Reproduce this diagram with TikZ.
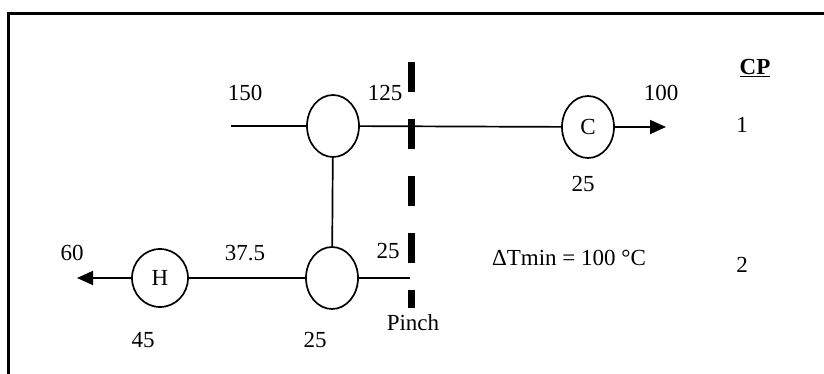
\documentclass[tikz,border=0pt]{standalone}
\usepackage{fontspec}
\setmainfont{Liberation Serif}
\usetikzlibrary{shapes.geometric,arrows.meta}
\begin{document}
\begin{tikzpicture}[x=1pt,y=-1pt,
 hx/.style={draw,ellipse,line width=1.7pt,minimum width=52pt,minimum height=62pt,inner sep=0pt,font=\fontsize{23}{26}\selectfont},
 lbl/.style={font=\fontsize{23}{26}\selectfont,inner sep=0pt},
 stream/.style={line width=1.7pt},
 tip/.style={-{Triangle[length=16pt,width=14pt]}}]
\useasboundingbox (0,0) rectangle (824,374);
\draw[line width=3pt] (8,374) -- (8,14) -- (824,14);
% exchangers
\node[hx] (e1) at (333,126) {};
\node[hx] (c) at (588,127) {C};
\node[hx] (e2) at (332,278) {};
\node[hx,minimum width=56pt,minimum height=58pt] (h) at (160,278) {H};
% stream ends
\coordinate (s1) at (231,126);
\coordinate (t1) at (666,127);
\coordinate (s2) at (410,278);
\coordinate (t2) at (77,278);
\draw[stream] (s1) -- (e1);
\draw[stream] (e1) -- (c);
\draw[stream,tip] (c) -- (t1);
\draw[stream] (s2) -- (e2);
\draw[stream] (e2) -- (h);
\draw[stream,tip] (h) -- (t2);
\draw[stream] (e1) -- (e2);
% pinch
\coordinate (p1) at (411,62);
\coordinate (p2) at (411,308);
\draw[line width=7pt,dash pattern=on 30pt off 27pt] (p1) -- (p2);
% labels
\node[lbl] (l150) at (245,93) {150};
\node[lbl] (l125) at (385,93) {125};
\node[lbl] (l100) at (661,93) {100};
\node[lbl] (lcp) at (755,68) {\underline{\textbf{CP}}};
\node[lbl] (lone) at (742,125) {1};
\node[lbl] (lc25) at (583,184) {25};
\node[lbl] (l60) at (72,253) {60};
\node[lbl] (l375) at (245,253) {37.5};
\node[lbl] (lp25) at (388,251) {25};
\node[lbl] (lpinch) at (413,323) {Pinch};
\node[lbl] (l45) at (143,340) {45};
\node[lbl] (le25) at (315,340) {25};
\node[lbl] (ldt) at (569,258) {ΔTmin = 100 °C};
\node[lbl] (ltwo) at (742,265) {2};
\end{tikzpicture}
\end{document}
